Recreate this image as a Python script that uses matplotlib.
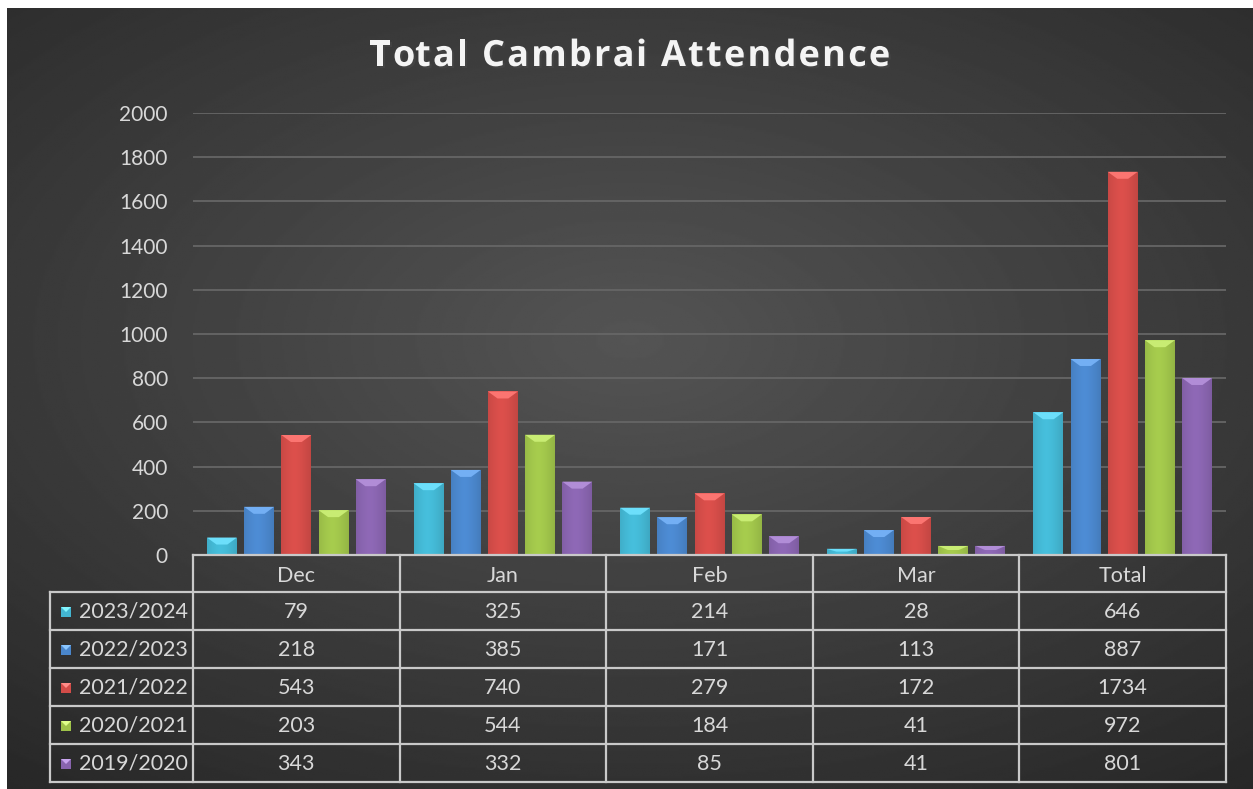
import matplotlib
matplotlib.use("Agg")
import matplotlib.pyplot as plt
import matplotlib.patheffects as pe
from matplotlib.patches import Polygon
import numpy as np

months = ["Dec", "Jan", "Feb", "Mar", "Total"]
seasons = ["2023/2024", "2022/2023", "2021/2022", "2020/2021", "2019/2020"]
s2023 = [79, 325, 214, 28, 646]
s2022 = [218, 385, 171, 113, 887]
s2021 = [543, 740, 279, 172, 1734]
s2020 = [203, 544, 184, 41, 972]
s2019 = [343, 332, 85, 41, 801]
series = [s2023, s2022, s2021, s2020, s2019]
colors = ["#43b6d2", "#4a86cb", "#d24c48", "#9fc34a", "#8864ae"]
yticks = list(range(0, 2001, 200))
title = "Total Cambrai Attendence"

W, H = 1253, 789
plt.rcParams['font.family'] = ['Lato', 'DejaVu Sans']
fig = plt.figure(figsize=(W / 100, H / 100), dpi=100, facecolor="white")

# background with radial gradient
bg = fig.add_axes([7 / W, 0, 1 - 7 / W, 1 - 8 / H])
yy, xx = np.mgrid[-1:1:400j, -1:1:600j]
r = np.sqrt((xx * 0.9) ** 2 + ((yy + 0.15) * 1.0) ** 2)
bg.imshow(0.33 - 0.12 * r, cmap="gray", vmin=0, vmax=1, aspect="auto",
          extent=[0, 1, 0, 1])
bg.axis("off")

# main plot area
L, R, T, B = 193, 1226, 113, 555
ax = fig.add_axes([L / W, 1 - B / H, (R - L) / W, (B - T) / H])
ax.patch.set_alpha(0)
ax.set_yticks(yticks)
ax.set_yticklabels([str(v) for v in yticks])
ax.tick_params(axis="y", length=0, pad=18, labelsize=15, labelcolor="#d8d8d8")
ax.set_xticks([])
ax.grid(axis="y", color="#666666", lw=1.3)
ax.set_axisbelow(True)
for s in ax.spines.values():
    s.set_visible(False)

step = 0.18
bw = 0.145
x = np.arange(len(months))
px_per_unit = (B - T) / 2000
for i, (vals, c) in enumerate(zip(series, colors)):
    xs = x + (i - 2) * step
    bars = ax.bar(xs, vals, width=bw, color=c, zorder=3)
    rgb = np.array(matplotlib.colors.to_rgb(c))
    light = np.clip(rgb + 0.16, 0, 1)
    dark = rgb * 0.8
    for b, v in zip(bars, vals):
        x0 = b.get_x()
        # horizontal shading
        grad = np.linspace(0, 1, 30)
        prof = 1 - 0.6 * np.abs(grad - 0.45) ** 1.5 * 2
        img = np.array([[dark + (rgb * 1.05 - dark) * p for p in prof]])
        img = np.clip(img, 0, 1)
        im = ax.imshow(img, extent=[x0, x0 + bw, 0, v], aspect="auto", zorder=3.5)
        im.set_clip_path(b)
        # top bevel
        hb = min(7 / px_per_unit, v * 0.45)
        poly = Polygon([[x0, v], [x0 + bw, v], [x0 + bw * 0.68, v - hb],
                        [x0 + bw * 0.32, v - hb]], closed=True,
                       facecolor=light, edgecolor="none", zorder=4)
        ax.add_patch(poly)
ax.set_xlim(-0.5, len(months) - 0.5)
ax.set_ylim(0, 2000)

# data table / title overlay in pixel space
ov = fig.add_axes([0, 0, 1, 1])
ov.set_xlim(0, W)
ov.set_ylim(H, 0)
ov.axis("off")

# title with letter spacing, placed char by char
tkw = dict(fontsize=26, fontweight="bold", color="#f4f4f4",
           family=["Open Sans", "DejaVu Sans"])
renderer = fig.canvas.get_renderer()
def tw(s):
    t = ov.text(0, 0, s, **tkw)
    w = t.get_window_extent(renderer).width
    t.remove()
    return w
bar_w = tw("|")
offs = [tw(title[:k] + "|") - bar_w if k else 0 for k in range(len(title))]
full = tw(title)
spacing = 2.2
total = full + spacing * (len(title) - 1)
start = 630 - total / 2
for k, ch in enumerate(title):
    if ch == " ":
        continue
    ov.text(start + offs[k] + spacing * k, 57, ch, ha="left", va="center", **tkw,
            path_effects=[pe.withSimplePatchShadow(offset=(1.5, -1.5), alpha=0.6)])

lc = "#c9c9c9"
lw = 1.6
colw = (R - L) / len(months)
rowh = 38
hdr_top = B
rows_top = B + 37
tbl_bottom = rows_top + rowh * len(seasons)
lab_left = 50
ov.plot([L, R], [hdr_top, hdr_top], color=lc, lw=lw)
for k in range(len(months) + 1):
    xv = L + k * colw
    ov.plot([xv, xv], [hdr_top, tbl_bottom], color=lc, lw=lw)
for k in range(len(seasons) + 1):
    yv = rows_top + k * rowh
    ov.plot([lab_left, R], [yv, yv], color=lc, lw=lw)
ov.plot([lab_left, lab_left], [rows_top, tbl_bottom], color=lc, lw=lw)

fs = 15.5
for j, m in enumerate(months):
    ov.text(L + (j + 0.5) * colw, (hdr_top + rows_top) / 2 + 2, m, ha="center",
            va="center", fontsize=fs, color="#d8d8d8")
for i, (name, vals, c) in enumerate(zip(seasons, series, colors)):
    yc = rows_top + (i + 0.5) * rowh + 1
    ov.add_patch(plt.Rectangle((61, yc - 5), 10, 10, facecolor=c, edgecolor="none"))
    rgb = np.array(matplotlib.colors.to_rgb(c))
    ov.add_patch(Polygon([[61, yc - 5], [71, yc - 5], [66, yc]], closed=True,
                         facecolor=np.clip(rgb + 0.25, 0, 1), edgecolor="none"))
    ov.text(79, yc, name, ha="left", va="center", fontsize=fs, color="#d8d8d8")
    for j, v in enumerate(vals):
        ov.text(L + (j + 0.5) * colw, yc, str(v), ha="center", va="center",
                fontsize=fs, color="#d8d8d8")

fig.savefig("out.png", dpi=100, facecolor=fig.get_facecolor())
